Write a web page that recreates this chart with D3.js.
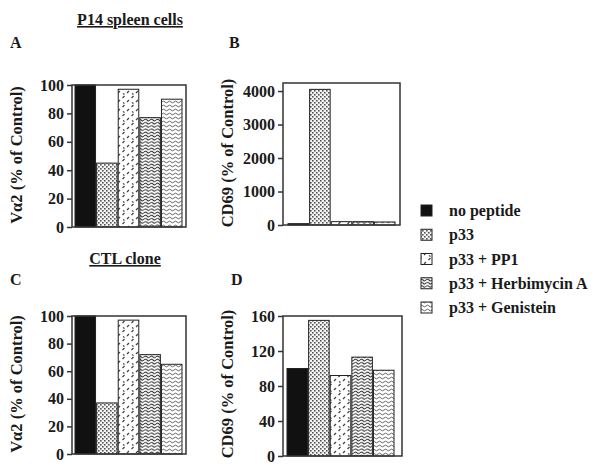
<!DOCTYPE html>
<html><head><meta charset="utf-8">
<script src="https://cdn.jsdelivr.net/npm/d3@7"></script>
<style>body{margin:0;background:#fff}svg text{font-family:"Liberation Serif","Times New Roman",serif !important;font-weight:bold !important;fill:#1a1a1a}</style>
</head><body><svg id="c" width="600" height="471"></svg>
<script>
const categories = ["no peptide","p33","p33 + PP1","p33 + Herbimycin A","p33 + Genistein"];
const valuesA = [100, 45, 97, 77, 90];
const valuesB = [40, 4050, 100, 100, 90];
const valuesC = [100, 37, 97, 72, 65];
const valuesD = [100, 155, 92, 113, 98];
const ticksA = [0,20,40,60,80,100];
const ticksB = [0,1000,2000,3000,4000];
const ticksD = [0,40,80,120,160];
const patternIds = ["solid","pCheck","pDash","pWave","pWave2"];

const svg = d3.select("#c");
const defs = svg.append("defs");
let p = defs.append("pattern").attr("id","pCheck").attr("width",4).attr("height",4).attr("patternUnits","userSpaceOnUse");
p.append("rect").attr("width",4).attr("height",4).attr("fill","#f4f4f4");
p.append("rect").attr("x",0).attr("y",0).attr("width",1.6).attr("height",1.6).attr("fill","#555");
p.append("rect").attr("x",2).attr("y",2).attr("width",1.6).attr("height",1.6).attr("fill","#555");
p = defs.append("pattern").attr("id","pDash").attr("width",9).attr("height",9).attr("patternUnits","userSpaceOnUse");
p.append("rect").attr("width",9).attr("height",9).attr("fill","#fff");
p.append("path").attr("d","M1,3 L3,1 M5.5,8 L7.5,6 M6,3.5 L7.5,4.5").attr("stroke","#444").attr("stroke-width",1.3).attr("fill","none");
p = defs.append("pattern").attr("id","pWave").attr("width",6).attr("height",3.2).attr("patternUnits","userSpaceOnUse");
p.append("rect").attr("width",6).attr("height",3.2).attr("fill","#fff");
p.append("path").attr("d","M0,1.6 Q1.5,0 3,1.6 T6,1.6").attr("stroke","#333").attr("stroke-width",1).attr("fill","none");
p = defs.append("pattern").attr("id","pWave2").attr("width",6).attr("height",4).attr("patternUnits","userSpaceOnUse");
p.append("rect").attr("width",6).attr("height",4).attr("fill","#fff");
p.append("path").attr("d","M0,2 Q1.5,0.3 3,2 T6,2").attr("stroke","#555").attr("stroke-width",0.9).attr("fill","none");

function fillFor(i){ return i===0 ? "#111" : "url(#"+patternIds[i]+")"; }

function panel(o){
  const g = svg.append("g");
  const y = d3.scaleLinear().domain([0,o.max]).range([o.y0,o.y1]);
  const x = d3.scaleBand().domain(categories).range([o.bx0,o.bx1]).paddingInner(0.05);
  g.selectAll("rect.bar").data(o.values).enter().append("rect")
    .attr("x",(d,i)=>x(categories[i])).attr("width",x.bandwidth())
    .attr("y",d=>y(d)).attr("height",d=>y(0)-y(d))
    .attr("fill",(d,i)=>fillFor(i)).attr("stroke","#222").attr("stroke-width",1);
  g.append("rect").attr("x",o.fx0).attr("y",y(o.max)).attr("width",o.fx1-o.fx0).attr("height",y(0)-y(o.max))
    .attr("fill","none").attr("stroke","#333").attr("stroke-width",1.5);
  const ax = g.append("g").attr("transform",`translate(${o.fx0},0)`)
    .call(d3.axisLeft(y).tickValues(o.ticks).tickSize(5).tickPadding(3).tickFormat(d3.format("d")));
  ax.attr("font-family",null).attr("font-size",null);
  ax.select(".domain").remove();
  ax.selectAll("line").attr("stroke","#333").attr("stroke-width",1.5);
  ax.selectAll("text").style("font-size","16px").attr("fill","#1a1a1a");
  g.append("text").attr("transform",`translate(${o.lx},${o.ly}) rotate(-90)`).attr("text-anchor","middle")
    .attr("dy","0.35em").style("font-size","16.5px").text(o.label);
  g.append("text").attr("x",o.px).attr("y",o.py).style("font-size","16px").text(o.letter);
}

panel({values:valuesA,max:100,ticks:ticksA,y0:227,y1:85,bx0:75,bx1:182,fx0:72,fx1:186,label:"Vα2 (% of Control)",lx:16,ly:155,letter:"A",px:10,py:48});
panel({values:valuesB,max:4240,ticks:ticksB,y0:225,y1:83,bx0:288,bx1:395,fx0:283,fx1:400,label:"CD69 (% of Control)",lx:227,ly:153,letter:"B",px:229,py:48});
panel({values:valuesC,max:100,ticks:ticksA,y0:454,y1:316,bx0:75,bx1:182,fx0:72,fx1:186,label:"Vα2 (% of Control)",lx:16,ly:384,letter:"C",px:10,py:285});
panel({values:valuesD,max:160,ticks:ticksD,y0:456,y1:316,bx0:287,bx1:394,fx0:283,fx1:402,label:"CD69 (% of Control)",lx:227,ly:384,letter:"D",px:231,py:285});

svg.append("text").attr("x",130).attr("y",25).attr("text-anchor","middle").style("font-size","16px")
  .style("text-decoration","underline").text("P14 spleen cells");
svg.append("text").attr("x",125).attr("y",264).attr("text-anchor","middle").style("font-size","16px")
  .style("text-decoration","underline").text("CTL clone");

const leg = svg.append("g");
const ly = d3.scalePoint().domain(categories).range([211,308]);
categories.forEach((c,i)=>{
  leg.append("rect").attr("x",421).attr("y",ly(c)-6).attr("width",11).attr("height",11)
    .attr("fill",fillFor(i)).attr("stroke","#222").attr("stroke-width",1);
  leg.append("text").attr("x",449).attr("y",ly(c)+5).style("font-size","16px").text(c);
});
</script></body></html>
